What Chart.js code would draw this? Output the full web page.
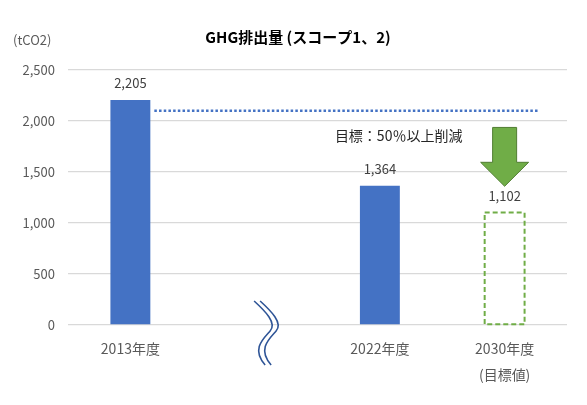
<!DOCTYPE html>
<html>
<head>
<meta charset="utf-8">
<script src="https://cdn.jsdelivr.net/npm/chart.js@4"></script>
<style>
  html, body { margin: 0; padding: 0; background: #fff; }
  #wrap { width: 587px; height: 405px; }
</style>
</head>
<body>
<div id="wrap"><canvas id="ghgChart"></canvas></div>
<script>
const categories = ['2013年度', '', '2022年度', ['2030年度', '(目標値)']];
const emissions = [2205, null, 1364, 1102];
const valueLabels = ['2,205', '', '1,364', '1,102'];
const yTicks = [0, 500, 1000, 1500, 2000, 2500];
const targetLevel = 2100;
const targetText = '目標：50％以上削減';

const FONT = '"Noto Sans CJK JP", "Noto Sans", sans-serif';
const TEXT_COLOR = '#595959';

// extra drawings: title, unit, labels, target line, arrow, break mark, dashed bar
const extrasPlugin = {
  id: 'extras',
  afterDatasetsDraw(chart) {
    const { ctx, scales: { x, y } } = chart;
    const meta = chart.getDatasetMeta(0);
    ctx.save();

    // title
    ctx.fillStyle = '#000';
    ctx.font = 'bold 15px ' + FONT;
    ctx.textAlign = 'center';
    ctx.textBaseline = 'middle';
    ctx.fillText('GHG排出量 (スコープ1、2)', 298, 37);

    // unit
    ctx.fillStyle = TEXT_COLOR;
    ctx.font = '13px ' + FONT;
    ctx.textAlign = 'left';
    ctx.fillText('(tCO2)', 13, 40);

    // dashed target bar
    const b = meta.data[3];
    ctx.strokeStyle = '#70AD47';
    ctx.lineWidth = 2;
    ctx.setLineDash([5, 3]);
    ctx.strokeRect(b.x - b.width / 2, b.y, b.width, b.base - b.y);
    ctx.setLineDash([]);

    // value labels
    ctx.fillStyle = '#404040';
    ctx.font = '13px ' + FONT;
    ctx.textAlign = 'center';
    emissions.forEach((v, i) => {
      if (v == null) return;
      const el = meta.data[i];
      ctx.fillText(valueLabels[i], el.x, el.y - 17);
    });

    // dotted target line
    const b0 = meta.data[0];
    const ly = y.getPixelForValue(targetLevel);
    ctx.strokeStyle = '#4472C4';
    ctx.lineWidth = 2.5;
    ctx.setLineDash([2.5, 2.2]);
    ctx.beginPath();
    ctx.moveTo(b0.x + b0.width / 2 + 4, ly);
    ctx.lineTo(x.getPixelForValue(3) + 35, ly);
    ctx.stroke();
    ctx.setLineDash([]);

    // target text
    ctx.fillStyle = '#262626';
    ctx.font = '14px ' + FONT;
    ctx.textAlign = 'left';
    ctx.fillText(targetText, x.getPixelForValue(2) - 45, y.getPixelForValue(1860));

    // green down arrow
    const ax = x.getPixelForValue(3);
    const top = y.getPixelForValue(1937);
    const neck = y.getPixelForValue(1595);
    const tip = y.getPixelForValue(1360);
    ctx.fillStyle = '#70AD47';
    ctx.strokeStyle = '#507E32';
    ctx.lineWidth = 1;
    ctx.beginPath();
    ctx.moveTo(ax - 12, top);
    ctx.lineTo(ax + 12, top);
    ctx.lineTo(ax + 12, neck);
    ctx.lineTo(ax + 24, neck);
    ctx.lineTo(ax, tip);
    ctx.lineTo(ax - 24, neck);
    ctx.lineTo(ax - 12, neck);
    ctx.closePath();
    ctx.fill();
    ctx.stroke();

    // axis break mark
    const bx = x.getPixelForValue(1) + 2;
    const by = y.getPixelForValue(0);
    ctx.strokeStyle = '#2F5597';
    ctx.lineWidth = 1.6;
    [0, 6].forEach(dx => {
      const sx = bx + dx;
      ctx.beginPath();
      ctx.moveTo(sx - 3, by - 24);
      ctx.bezierCurveTo(sx + 8, by - 14, sx + 20, by - 2, sx + 13, by + 6);
      ctx.bezierCurveTo(sx + 6, by + 14, sx - 6, by + 24, sx + 8, by + 40);
      ctx.stroke();
    });

    ctx.restore();
  }
};

new Chart(document.getElementById('ghgChart'), {
  type: 'bar',
  data: {
    labels: categories,
    datasets: [{
      data: emissions,
      backgroundColor: ['#4472C4', '#4472C4', '#4472C4', 'rgba(0,0,0,0)'],
      borderWidth: 0,
      categoryPercentage: 1,
      barPercentage: 0.32
    }]
  },
  options: {
    responsive: true,
    maintainAspectRatio: false,
    animation: false,
    layout: { padding: { top: 70, right: 20, left: 0, bottom: 0 } },
    plugins: {
      legend: { display: false },
      title: { display: false },
      tooltip: { enabled: false }
    },
    scales: {
      x: {
        grid: { display: false },
        border: { display: false },
        ticks: {
          color: TEXT_COLOR,
          font: { family: FONT, size: 14, lineHeight: 1.85 },
          padding: 3,
          maxRotation: 0
        },
        afterFit: s => { s.height = 405 - 325; }
      },
      y: {
        min: 0,
        max: 2500,
        afterBuildTicks: s => { s.ticks = yTicks.map(v => ({ value: v })); },
        grid: { color: '#D9D9D9', lineWidth: 1.3, drawTicks: false },
        border: { display: false },
        ticks: {
          color: TEXT_COLOR,
          font: { family: FONT, size: 13 },
          padding: 13,
          callback: v => v.toLocaleString('en-US')
        },
        afterFit: s => { s.width = 68; }
      }
    }
  },
  plugins: [extrasPlugin]
});
</script>
</body>
</html>
